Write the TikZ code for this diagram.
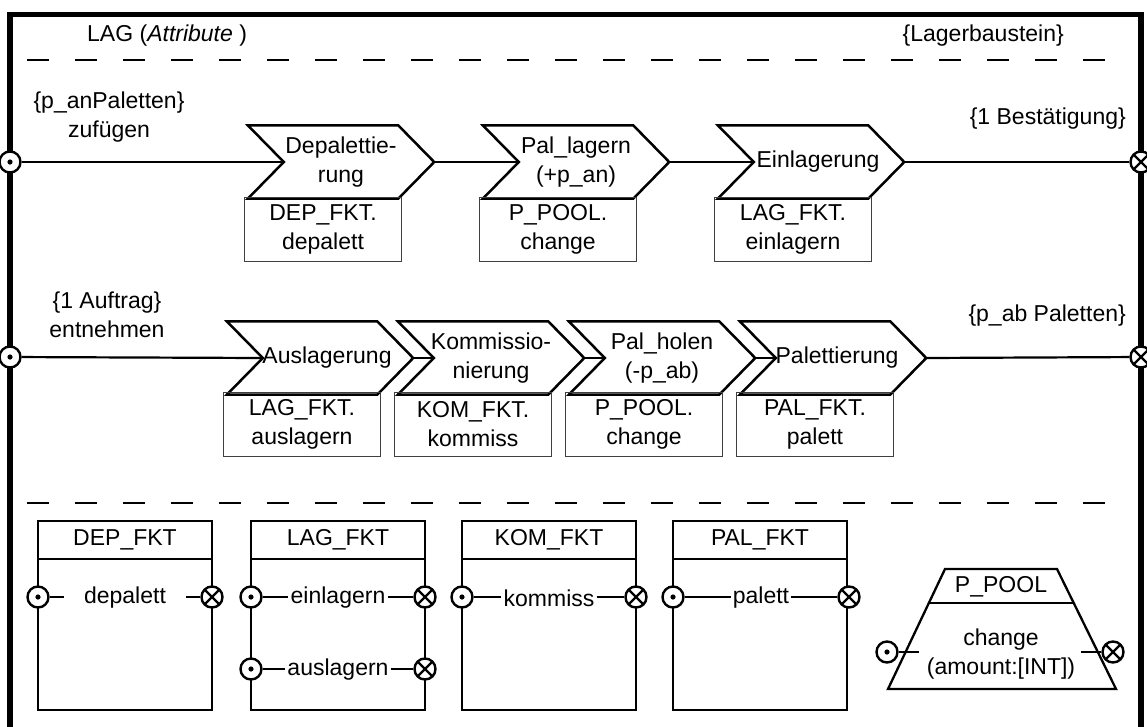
\documentclass[tikz,border=0pt]{standalone}
\usepackage{fontspec}
\setmainfont{Liberation Sans}
\usetikzlibrary{positioning,calc}

\tikzset{
  txt/.style={font=\fontsize{23}{29}\selectfont, align=center, inner sep=2pt},
  chev/.style={txt, minimum width=186pt, minimum height=73pt, inner sep=0pt},
  chevline/.style={line width=2.5pt, line join=miter},
  fnbox/.style={txt, draw=black!75, line width=1pt, minimum width=157pt, minimum height=64pt, inner sep=0pt},
  flow/.style={line width=2.2pt},
  cls/.style={line width=2.3pt},
  sep/.style={line width=2.6pt, dash pattern=on 22pt off 26pt},
  pin/.style={circle, draw, fill=white, line width=2.4pt, minimum size=21pt, inner sep=0pt,
    path picture={\fill[black] (path picture bounding box.center) circle (2.6pt);}},
  pout/.style={circle, draw, fill=white, line width=2.4pt, minimum size=21pt, inner sep=0pt,
    path picture={\draw[black, line width=2.2pt] (path picture bounding box.north west) -- (path picture bounding box.south east)
      (path picture bounding box.south west) -- (path picture bounding box.north east);}},
}

\begin{document}
\begin{tikzpicture}[x=1pt,y=-1pt]
    \clip (0,0) rectangle (1147,726);

    % block frame and compartments
    \draw[line width=5.5pt] (10,740) -- (10,14.5) -- (1141,14.5) -- (1141,740);
    \node[txt, anchor=west] (title) at (85,36) {LAG (\textit{Attribute} )};
    \node[txt, anchor=east] (kind) at (1066,36) {\{Lagerbaustein\}};
    \draw[sep] (27,60) -- (1110,60);
    \draw[sep] (27,503) -- (1110,503);

    % incoming pallets
    \node[chev] (dep) at (341,162) {Depalettie-\\rung};
    \node[chev] (pla) at (576,162) {Pal\_lagern\\(+p\_an)};
    \node[chev] (ein) at (811,162) {\hspace*{14pt}Einlagerung};

    % outgoing pallets
    \node[chev] (aus) at (320,358) {\hspace*{14pt}Auslagerung};
    \node[chev] (kom) at (491,358) {Kommissio-\\nierung};
    \node[chev] (pho) at (662,358) {Pal\_holen\\(-p\_ab)};
    \node[chev] (pal) at (833,358) {\hspace*{8pt}Palettierung};

    \foreach \n in {dep,pla,ein,aus,kom,pho,pal} {
        \draw[chevline] (\n.north west) -- ([xshift=-36pt]\n.north east) -- (\n.east)
            -- ([xshift=-36pt]\n.south east) -- (\n.south west) -- ([xshift=36pt]\n.west) -- cycle;
        \coordinate (\n-in) at ([xshift=36pt]\n.west);
    }

    % called functions
    \node[fnbox] (dep-f) at ($(dep)+(-18,67)$) {DEP\_FKT.\\depalett};
    \node[fnbox] (pla-f) at ($(pla)+(-18,67)$) {P\_POOL.\\change};
    \node[fnbox] (ein-f) at ($(ein)+(-18,67)$) {LAG\_FKT.\\einlagern};
    \node[fnbox] (aus-f) at ($(aus)+(-18,66)$) {LAG\_FKT.\\auslagern};
    \node[fnbox] (kom-f) at ($(kom)+(-18,66)$) {KOM\_FKT.\\kommiss};
    \node[fnbox] (pho-f) at ($(pho)+(-18,66)$) {P\_POOL.\\change};
    \node[fnbox] (pal-f) at ($(pal)+(-18,66)$) {PAL\_FKT.\\palett};

    % ports and flows
    \node[pin] (in1) at (10,162) {};
    \node[pout] (out1) at (1141,162) {};
    \node[pin] (in2) at (10,357) {};
    \node[pout] (out2) at (1141,357) {};
    \draw[flow] (in1) -- (dep-in);
    \draw[flow] (dep.east) -- (pla-in);
    \draw[flow] (pla.east) -- (ein-in);
    \draw[flow] (ein.east) -- (out1);
    \draw[flow] (in2) -- (aus-in);
    \draw[flow] (aus.east) -- (kom-in);
    \draw[flow] (kom.east) -- (pho-in);
    \draw[flow] (pho.east) -- (pal-in);
    \draw[flow] (pal.east) -- (out2);

    \node[txt] (l1) at (109,117) {\{p\_anPaletten\}\\zufügen};
    \node[txt, anchor=east] (r1) at (1128,119) {\{1 Bestätigung\}};
    \node[txt] (l2) at (107,315) {\{1 Auftrag\}\\entnehmen};
    \node[txt, anchor=east] (r2) at (1128,316) {\{p\_ab Paletten\}};

    % function classes
    \foreach \nm/\x in {DEP/38, LAG/251, KOM/462, PAL/673} {
        \draw[cls] (\x,521) rectangle ++(174,189);
        \draw[cls] (\x,559) -- ++(174,0);
        \node[txt] (\nm) at (\x+87,540) {\nm\_FKT};
    }

    \node[pin] (dep-i) at (38,597) {};
    \node[pout] (dep-o) at (212,597) {};
    \node[txt] (depalett) at (125,598) {depalett};
    \draw[flow] (dep-i.east) -- ++(14,0);
    \draw[flow] (dep-o.west) -- ++(-14,0);

    \node[pin] (lag-i1) at (251,597) {};
    \node[pout] (lag-o1) at (425,597) {};
    \node[txt] (einl) at (338,598) {einlagern};
    \draw[flow] (lag-i1) -- (lag-i1 -| einl.west);
    \draw[flow] (einl.east |- lag-o1) -- (lag-o1);
    \node[pin] (lag-i2) at (251,669) {};
    \node[pout] (lag-o2) at (425,669) {};
    \node[txt] (ausl) at (338,670) {auslagern};
    \draw[flow] (lag-i2) -- (lag-i2 -| ausl.west);
    \draw[flow] (ausl.east |- lag-o2) -- (lag-o2);

    \node[pin] (kom-i) at (462,597) {};
    \node[pout] (kom-o) at (636,597) {};
    \node[txt] (komm) at (549,598) {kommiss};
    \draw[flow] (kom-i) -- (kom-i -| komm.west);
    \draw[flow] (komm.east |- kom-o) -- (kom-o);

    \node[pin] (pal-i) at (673,597) {};
    \node[pout] (pal-o) at (849,597) {};
    \node[txt] (palt) at (761,598) {palett};
    \draw[flow] (pal-i) -- (pal-i -| palt.west);
    \draw[flow] (palt.east |- pal-o) -- (pal-o);

    % pallet pool
    \draw[cls] (945,569) -- (1057,569) -- (1116,689) -- (888,689) -- cycle;
    \draw[cls] (929,603) -- (1073,603);
    \node[txt] (pool) at (1001,587) {P\_POOL};
    \node[txt] (chg) at (1001,654) {change\\(amount:[INT])};
    \node[pin] (pool-i) at (887,652) {};
    \node[pout] (pool-o) at (1113,652) {};
    \draw[flow] (pool-i.east) -- ++(20,0);
    \draw[flow] (pool-o.west) -- ++(-20,0);
\end{tikzpicture}
\end{document}
